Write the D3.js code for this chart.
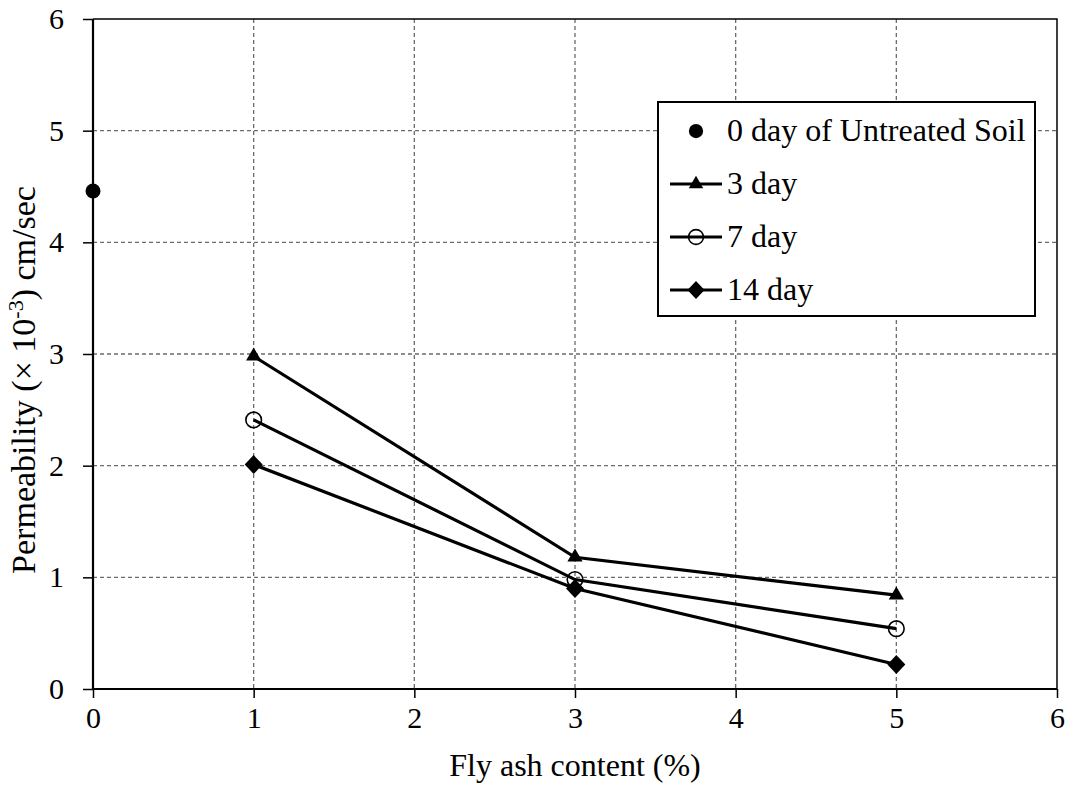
<!DOCTYPE html>
<html>
<head>
<meta charset="utf-8">
<script src="https://cdn.jsdelivr.net/npm/d3@7"></script>
<style>
  body { margin: 0; background: #fff; }
  text { font-family: "Liberation Serif", "Times New Roman", serif; fill: #000; }
</style>
</head>
<body>
<div class="chart"></div>
<script>
// data
const untreatedX = [0];
const untreatedY = [4.46];
const flyAsh = [1, 3, 5];
const day3 = [2.98, 1.18, 0.84];
const day7 = [2.41, 0.98, 0.54];
const day14 = [2.01, 0.90, 0.22];
const xTicks = [0, 1, 2, 3, 4, 5, 6];
const yTicks = [0, 1, 2, 3, 4, 5, 6];

const margin = { top: 19, right: 16, bottom: 101, left: 93 };
const outerWidth = 1073;
const outerHeight = 790;
const innerWidth = outerWidth - margin.left - margin.right;
const innerHeight = outerHeight - margin.top - margin.bottom;

const svg = d3.select('.chart')
  .append('svg')
    .attr('width', outerWidth)
    .attr('height', outerHeight);

const chartG = svg.append('g')
  .attr('transform', `translate(${margin.left}, ${margin.top})`);

const x = d3.scaleLinear().domain([0, 6]).range([0, innerWidth]);
const y = d3.scaleLinear().domain([0, 6]).range([innerHeight, 0]);

// dashed grid
chartG.append('g')
  .selectAll('line')
  .data(xTicks.slice(1, -1))
  .join('line')
    .attr('x1', d => x(d)).attr('x2', d => x(d))
    .attr('y1', 0).attr('y2', innerHeight)
    .attr('stroke', '#6b6b6b').attr('stroke-width', 1.3)
    .attr('stroke-dasharray', '4,3');
chartG.append('g')
  .selectAll('line')
  .data(yTicks.slice(1, -1))
  .join('line')
    .attr('x1', 0).attr('x2', innerWidth)
    .attr('y1', d => y(d)).attr('y2', d => y(d))
    .attr('stroke', '#6b6b6b').attr('stroke-width', 1.3)
    .attr('stroke-dasharray', '4,3');

// frame top/right
chartG.append('path')
  .attr('d', `M0,0H${innerWidth}V${innerHeight}`)
  .attr('fill', 'none').attr('stroke', '#000').attr('stroke-width', 1.5);

// axes
const xAxis = chartG.append('g')
  .attr('transform', `translate(0, ${innerHeight})`)
  .call(d3.axisBottom(x).tickValues(xTicks).tickSize(9).tickPadding(9).tickFormat(d3.format('d')));
const yAxis = chartG.append('g')
  .call(d3.axisLeft(y).tickValues(yTicks).tickSize(10).tickPadding(19).tickFormat(d3.format('d')));
[xAxis, yAxis].forEach(a => {
  a.attr('font-size', null).attr('font-family', null);
  a.select('.domain').attr('stroke', '#000').attr('stroke-width', 2.2);
  a.selectAll('.tick line').attr('stroke', '#000').attr('stroke-width', 1.5);
  a.selectAll('text').style('font-size', '30px');
});
xAxis.select('.domain').attr('d', `M0,0H${innerWidth}`);
yAxis.select('.domain').attr('d', `M0,0V${innerHeight}`);

// axis titles
svg.append('text')
  .attr('x', margin.left + innerWidth / 2)
  .attr('y', 776)
  .attr('text-anchor', 'middle')
  .style('font-size', '32px')
  .text('Fly ash content (%)');

const yTitle = svg.append('text')
  .attr('transform', 'translate(35, 380) rotate(-90)')
  .attr('text-anchor', 'middle')
  .style('font-size', '34px');
yTitle.append('tspan').text('Permeability (× 10');
yTitle.append('tspan').attr('dy', -12).style('font-size', '22px').text('-3');
yTitle.append('tspan').attr('dy', 12).text(') cm/sec');

// series
const series = [
  { name: '3 day', values: day3, marker: 'triangle' },
  { name: '7 day', values: day7, marker: 'circle' },
  { name: '14 day', values: day14, marker: 'diamond' }
];

const line = d3.line().x(d => x(d[0])).y(d => y(d[1]));

function drawMarker(g, type, cx, cy, k = 1) {
  if (type === 'triangle') {
    g.append('path')
      .attr('d', d3.symbol(d3.symbolTriangle, 100 * k * k)())
      .attr('transform', `translate(${cx}, ${cy})`)
      .attr('fill', '#000');
  } else if (type === 'diamond') {
    g.append('path')
      .attr('d', `M0,${-9.5 * k}L${9 * k},0L0,${9.5 * k}L${-9 * k},0Z`)
      .attr('transform', `translate(${cx}, ${cy})`)
      .attr('fill', '#000');
  } else if (type === 'circle') {
    g.append('circle')
      .attr('cx', cx).attr('cy', cy).attr('r', 7.8 * k)
      .attr('fill', 'none').attr('stroke', '#000').attr('stroke-width', 1.6);
  } else if (type === 'dot') {
    g.append('circle')
      .attr('cx', cx).attr('cy', cy).attr('r', 7.5 * k)
      .attr('fill', '#000');
  }
}

series.forEach(s => {
  const pts = flyAsh.map((f, i) => [f, s.values[i]]);
  chartG.append('path')
    .attr('d', line(pts))
    .attr('fill', 'none').attr('stroke', '#000').attr('stroke-width', 3.2);
  const mg = chartG.append('g');
  pts.forEach(p => drawMarker(mg, s.marker, x(p[0]), y(p[1])));
});

untreatedX.forEach((v, i) => drawMarker(chartG, 'dot', x(v), y(untreatedY[i])));

// legend
const legend = svg.append('g').attr('transform', 'translate(658, 102)');
legend.append('rect')
  .attr('width', 377).attr('height', 214)
  .attr('fill', '#fff').attr('stroke', '#000').attr('stroke-width', 2);

const legendItems = [
  { name: '0 day of Untreated Soil', marker: 'dot', line: false },
  ...series.map(s => ({ name: s.name, marker: s.marker, line: true }))
];
legendItems.forEach((d, i) => {
  const ly = 29 + i * 53;
  const g = legend.append('g');
  if (d.line) {
    g.append('line')
      .attr('x1', 12).attr('x2', 64).attr('y1', ly).attr('y2', ly)
      .attr('stroke', '#000').attr('stroke-width', 3.2);
  }
  drawMarker(g, d.marker, 38, ly, 0.95);
  g.append('text')
    .attr('x', 69)
    .attr('y', ly + 10)
    .style('font-size', '32px')
    .text(d.name);
});
</script>
</body>
</html>
